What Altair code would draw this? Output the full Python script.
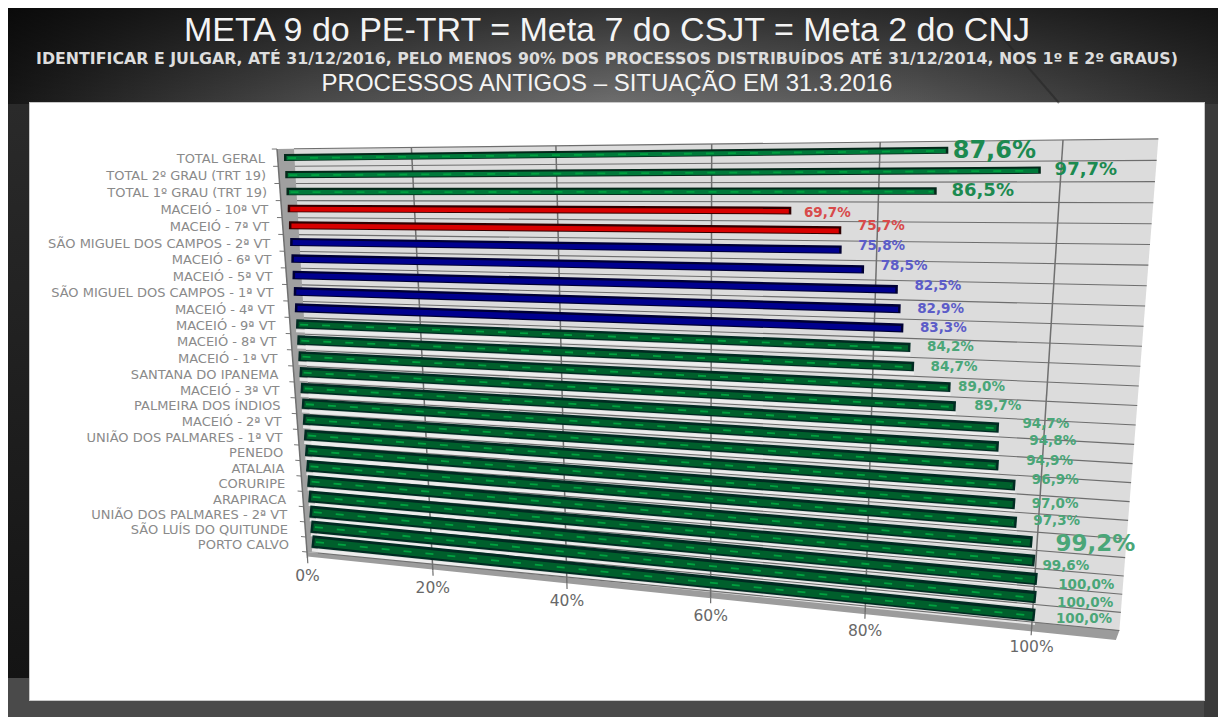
import altair as alt
import numpy as np
import pandas as pd

categories = ["TOTAL GERAL", "TOTAL 2º GRAU (TRT 19)", "TOTAL 1º GRAU (TRT 19)", "MACEIÓ - 10ª VT", "MACEIÓ - 7ª VT",
              "SÃO MIGUEL DOS CAMPOS - 2ª VT", "MACEIÓ - 6ª VT", "MACEIÓ - 5ª VT", "SÃO MIGUEL DOS CAMPOS - 1ª VT",
              "MACEIÓ - 4ª VT", "MACEIÓ - 9ª VT", "MACEIÓ - 8ª VT", "MACEIÓ - 1ª VT", "SANTANA DO IPANEMA",
              "MACEIÓ - 3ª VT", "PALMEIRA DOS ÍNDIOS", "MACEIÓ - 2ª VT", "UNIÃO DOS PALMARES - 1ª VT", "PENEDO",
              "ATALAIA", "CORURIPE", "ARAPIRACA", "UNIÃO DOS PALMARES - 2ª VT", "SÃO LUÍS DO QUITUNDE", "PORTO CALVO"]
values = [87.6, 97.7, 86.5, 69.7, 75.7, 75.8, 78.5, 82.5, 82.9, 83.3, 84.2, 84.7, 89.0, 89.7, 94.7, 94.8, 94.9,
          96.9, 97.0, 97.3, 99.2, 99.6, 100.0, 100.0, 100.0]
groups = ["total"] * 3 + ["red"] * 2 + ["blue"] * 5 + ["green"] * 15
ticks = [0, 20, 40, 60, 80, 100]

title_1 = "META 9 do PE-TRT = Meta 7 do CSJT = Meta 2 do CNJ"
title_2 = "IDENTIFICAR E JULGAR, ATÉ 31/12/2016, PELO MENOS 90% DOS PROCESSOS DISTRIBUÍDOS ATÉ 31/12/2014, NOS 1º E 2º GRAUS)"
title_3 = "PROCESSOS ANTIGOS – SITUAÇÃO EM 31.3.2016"

# ---------- layout ----------
W, H = 1210, 709
X = alt.Scale(domain=[8, 1218], range=[0, W])
Y = alt.Scale(domain=[8, 717], range=[0, H])
GRP = ["total", "red", "blue", "green"]


def homography(p00, p10, p11, p01):
    M, b = [], []
    for (u, s), (x, y) in zip([(0, 0), (1, 0), (1, 1), (0, 1)], [p00, p10, p11, p01]):
        M.append([u, s, 1, 0, 0, 0, -u * x, -s * x]); b.append(x)
        M.append([0, 0, 0, u, s, 1, -u * y, -s * y]); b.append(y)
    return np.linalg.solve(np.array(M, float), np.array(b, float))


def exprs(c, u, s):
    a, bb, cc, d, e, f, g, h = [float(v) for v in c]
    w = f"({g:.8f}*({u})+{h:.8f}*({s})+1)"
    return (f"({a:.6f}*({u})+{bb:.6f}*({s})+{cc:.6f})/{w}",
            f"({d:.6f}*({u})+{e:.6f}*({s})+{f:.6f})/{w}")


def project(c, u, s):
    a, bb, cc, d, e, f, g, h = c
    w = g * u + h * s + 1
    return ((a * u + bb * s + cc) / w, (d * u + e * s + f) / w)


WALL = homography((277, 149), (1063, 140), (1032, 622), (307, 552))
BARS = homography((284, 157.5), (1064, 149), (1035, 615), (312, 541.5))
UMAX_TOP, UMAX_BOTTOM = 1.098, 1.099


def poly(pts):
    """Turn a convex polygon into the columns of an area mark."""
    pts = list(pts)
    xs = sorted({round(float(p[0]), 2) for p in pts})
    out = []
    for x in xs:
        ys = []
        for i in range(len(pts)):
            (ax, ay), (bx, by) = pts[i], pts[(i + 1) % len(pts)]
            lo, hi = min(ax, bx), max(ax, bx)
            if lo - 0.01 <= x <= hi + 0.01:
                if abs(bx - ax) < 1e-6:
                    ys += [ay, by]
                else:
                    ys.append(ay + (by - ay) * (x - ax) / (bx - ax))
        out.append({"x": x, "y": float(min(ys)), "y2": float(max(ys))})
    return out


def area(pts, color):
    return alt.Chart(alt.Data(values=poly(pts))).mark_area(color=color, interpolate="linear").encode(
        x=alt.X("x:Q", scale=X, axis=None), y=alt.Y("y:Q", scale=Y, axis=None), y2="y2:Q")


def rect(x, x2, y, y2, color):
    d = alt.Data(values=[{"x": x, "x2": x2, "y": y, "y2": y2}])
    return alt.Chart(d).mark_rect(color=color).encode(
        x=alt.X("x:Q", scale=X, axis=None), x2="x2:Q",
        y=alt.Y("y:Q", scale=Y, axis=None), y2="y2:Q")


def grad(stops, x2=1, y2=0):
    return alt.LinearGradient(gradient="linear", x1=0, y1=0, x2=x2, y2=y2,
                              stops=[alt.GradientStop(offset=o, color=c) for o, c in stops])


# ---------- background ----------
bg = [
    rect(8, 1218, 8, 717, "#4a4a4a"),
    rect(8, 1218, 8, 104, grad([(0, "#161616"), (0.25, "#4a4a4a"), (0.5, "#6e6e6e"), (0.75, "#565656"), (1, "#2c2c2c")])),
    rect(8, 1218, 8, 104, grad([(0, "rgba(0,0,0,0.55)"), (1, "rgba(0,0,0,0)")], x2=0, y2=1)),
    rect(8, 30, 104, 678, grad([(0, "#2a2a2a"), (1, "#141414")], x2=0, y2=1)),
    rect(1204, 1218, 104, 717, "#3a3a3a"),
    rect(29, 1205, 102, 701, "#c8c8c8"),
    rect(30, 1204, 103, 700, "#ffffff"),
]
slash = alt.Chart(alt.Data(values=[{"x": 977, "y": 8, "x2": 1059, "y2": 103}])).mark_rule(
    color="#222222", strokeWidth=2, opacity=0.5).encode(
    x=alt.X("x:Q", scale=X, axis=None), x2="x2:Q", y=alt.Y("y:Q", scale=Y, axis=None), y2="y2:Q")

# ---------- 3D frame ----------
tl, tr = project(WALL, 0, 0), project(WALL, UMAX_TOP, 0)
bl, br = project(WALL, 0, 1), project(WALL, UMAX_BOTTOM, 1)
fl, fr = project(WALL, 0, 1.012), project(WALL, UMAX_BOTTOM - 0.003, 1.022)
wall = area([tl, tr, br, bl], "#dcdcdc")
floor = area([bl, br, fr, fl], "#9c9c9c")
side = area([tl, project(WALL, 0.026, 0), project(WALL, 0.018, 1), bl], "#a0a0a0")

row_lines = pd.DataFrame({"t": np.arange(26) / 25})
x_a, y_a = exprs(WALL, "0.018*datum.t+0.026*(1-datum.t)", "datum.t")
x_b, y_b = exprs(WALL, f"{UMAX_TOP}+({UMAX_BOTTOM - UMAX_TOP})*datum.t", "datum.t")
x_s, y_s = exprs(WALL, "0", "datum.t")
hlines = alt.Chart(row_lines).transform_calculate(xa=x_a, ya=y_a, xb=x_b, yb=y_b).mark_rule(
    color="#6e6e6e", strokeWidth=1.1).encode(
    x=alt.X("xa:Q", scale=X, axis=None), x2="xb:Q", y=alt.Y("ya:Q", scale=Y, axis=None), y2="yb:Q")
x_t, y_t = exprs(WALL, "0-0.008", "datum.t")
row_ticks = alt.Chart(row_lines).transform_calculate(xa=x_t, ya=y_t, xb=x_s, yb=y_s).mark_rule(
    color="#777777", strokeWidth=1).encode(
    x=alt.X("xa:Q", scale=X, axis=None), x2="xb:Q", y=alt.Y("ya:Q", scale=Y, axis=None), y2="yb:Q")

tick_df = pd.DataFrame({"tick": ticks, "label": [f"{t}%" for t in ticks]})
x_a, y_a = exprs(WALL, "datum.tick/100", "0")
x_b, y_b = exprs(WALL, "datum.tick/100", "1.016")
x_l, y_l = exprs(WALL, "datum.tick/100", "1.016")
vlines = alt.Chart(tick_df).transform_calculate(xa=x_a, ya=y_a, xb=x_b, yb=y_b).mark_rule(
    color="#707070", strokeWidth=1.5).encode(
    x=alt.X("xa:Q", scale=X, axis=None), x2="xb:Q", y=alt.Y("ya:Q", scale=Y, axis=None), y2="yb:Q")
x_b2, y_b2 = exprs(WALL, "datum.tick/100", "1.03")
vticks = alt.Chart(tick_df).transform_calculate(xa=x_b, ya=y_b, xb=x_b2, yb=y_b2).mark_rule(
    color="#707070", strokeWidth=1.2).encode(
    x=alt.X("xa:Q", scale=X, axis=None), x2="xb:Q", y=alt.Y("ya:Q", scale=Y, axis=None), y2="yb:Q")
tick_text = alt.Chart(tick_df).transform_calculate(xa=x_l, ya=f"({y_l})+18").mark_text(
    font="DejaVu Sans", fontSize=15.5, color="#686868", align="center", baseline="middle").encode(
    x=alt.X("xa:Q", scale=X, axis=None), y=alt.Y("ya:Q", scale=Y, axis=None), text="label:N")

# ---------- bars ----------
df = pd.DataFrame({"category": categories, "value": values, "group": groups, "row": range(len(values))})
df["label"] = [f"{v:.1f}".replace(".", ",") + "%" for v in values]
# hand-placed labels of the source: distance from the bar's end, and the enlarged ones
shift_by_row = {0: 46, 1: 45, 2: 46, 3: 36, 12: 31, 13: 42, 14: 47, 15: 54, 16: 51, 20: 63, 21: 31, 22: 49, 23: 49, 24: 49}
drop_by_row = {0: 1, 3: 2, 4: -4, 5: -4, 6: -3, 7: -3, 14: -4, 15: -5, 16: -4, 17: -5, 19: -1, 20: 2, 21: 5, 22: 6, 23: 6, 24: 4}
size_by_row = {0: 24, 1: 18, 2: 18, 20: 23}
df["shift"] = [shift_by_row.get(i, 40) for i in range(len(values))]
df["drop"] = [drop_by_row.get(i, 0) for i in range(len(values))]
df["tsize"] = [size_by_row.get(i, 13.5) for i in range(len(values))]

x0, y0 = exprs(BARS, "0", "datum.row/24")
x1, y1 = exprs(BARS, "datum.value/100", "datum.row/24")
base = alt.Chart(df).transform_calculate(x0=x0, y0=y0, x1=x1, y1=y1, w="7+5.5*datum.row/24")


def bar_layer(chart, colors, width_expr, dy, inset=0.0, **mark):
    return chart.transform_calculate(
        bw=width_expr, ya=f"datum.y0+({dy})", yb=f"datum.y1+({dy})", xa=f"datum.x0+{inset}", xb=f"datum.x1-{inset}"
    ).mark_rule(**mark).encode(
        x=alt.X("xa:Q", scale=X, axis=None), x2="xb:Q",
        y=alt.Y("ya:Q", scale=Y, axis=None), y2="yb:Q",
        size=alt.Size("bw:Q", scale=None, legend=None),
        color=alt.Color("group:N", scale=alt.Scale(domain=GRP, range=colors), legend=None))


glow = bar_layer(base.transform_filter("datum.row>=10"), ["#eeeeee"] * 4, "3", "datum.w*0.5+2.2", **{"opacity": 0.9})
edge = bar_layer(base, ["#04281a", "#300000", "#000033", "#012b22"], "datum.w", 0)
face = bar_layer(base, ["#00793a", "#d80000", "#00008e", "#005f2c"], "datum.w*0.6", 0.6, inset=2.5)
streak = bar_layer(base.transform_filter("datum.group=='total'||datum.group=='green'"),
                   ["#00a040", "#d80000", "#00008e", "#00a040"], "1.8", 0.6, inset=4.0, strokeDash=[8, 14])

tx = alt.Chart(df).transform_calculate(x1=x1, y1=y1, lx="datum.x1+datum.shift", ly="datum.y1+datum.drop").mark_text(
    font="DejaVu Sans", fontWeight="bold", align="center", baseline="middle").encode(
    x=alt.X("lx:Q", scale=X, axis=None), y=alt.Y("ly:Q", scale=Y, axis=None), text="label:N",
    size=alt.Size("tsize:Q", scale=None, legend=None),
    color=alt.Color("group:N", scale=alt.Scale(domain=GRP, range=["#1c8a50", "#d84a4a", "#5c5cc8", "#4aa678"]), legend=None))

cat_text = alt.Chart(df).transform_calculate(
    x0=x0, y0=y0, lx="datum.x0-19-4*datum.row/24", ly="datum.y0+1+2.8*datum.row/24").mark_text(
    font="DejaVu Sans", fontSize=13, color="#8a8a8a", align="right", baseline="middle").encode(
    x=alt.X("lx:Q", scale=X, axis=None), y=alt.Y("ly:Q", scale=Y, axis=None), text="category:N")

# ---------- titles ----------
titles = pd.DataFrame({"text": [title_1, title_2, title_3], "row": [0, 1, 2]})


def title_layer(i, size, font, weight, y, color="#f4f4f4"):
    return alt.Chart(titles[titles.row == i]).transform_calculate(px="607", py=str(y)).mark_text(
        font=font, fontSize=size, fontWeight=weight, color=color, align="center", baseline="middle").encode(
        x=alt.X("px:Q", scale=X, axis=None), y=alt.Y("py:Q", scale=Y, axis=None), text="text:N")


title_layers = [title_layer(0, 34, "Liberation Sans", "normal", 31),
                title_layer(1, 15.8, "DejaVu Sans", "bold", 59, "#dddddd"),
                title_layer(2, 24, "Liberation Sans", "normal", 84)]

chart = alt.layer(*bg, slash, wall, side, floor, glow, hlines, row_ticks, vlines, vticks, edge, face, streak, tx, cat_text,
                  tick_text, *title_layers).resolve_scale(color="independent").properties(
    width=W, height=H, padding=0, autosize=alt.AutoSizeParams(type="none")).configure_view(stroke=None)
chart.save("out.html", embed_options={"renderer": "svg", "actions": False})
